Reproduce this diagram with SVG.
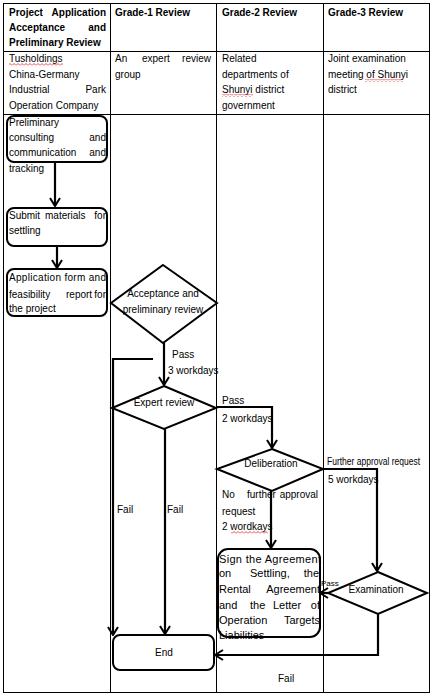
<svg xmlns="http://www.w3.org/2000/svg" width="435" height="697" viewBox="0 0 435 697">
<style>
text{font-family:"Liberation Sans",Arial,sans-serif;font-size:10px;fill:#000}
.b{font-weight:bold}
.m{text-anchor:middle}
.e{text-anchor:end}
.s{font-size:11px}
.tb{fill:none;stroke:#000;stroke-width:1}
.sh{fill:#fff;stroke:#000;stroke-width:2}
.cn{fill:none;stroke:#000;stroke-width:2.2}
.sq{fill:url(#sq)}
</style>
<defs>
<marker id="arr" viewBox="0 0 10 12" refX="9" refY="6" markerWidth="10" markerHeight="12" markerUnits="userSpaceOnUse" orient="auto">
<path d="M1,1 L9,6 L1,11" fill="none" stroke="#000" stroke-width="2"/>
</marker>
<pattern id="sq" width="4" height="3" patternUnits="userSpaceOnUse">
<path d="M0,2.5 L2,0.5 L4,2.5" fill="none" stroke="#d00" stroke-width="0.7"/>
</pattern>
</defs>
<rect width="435" height="697" fill="#fff"/>
<g id="table">
<rect class="tb" x="3.5" y="3.5" width="426" height="689"/>
<path class="tb" d="M110.5,3.5V692.5M216.5,3.5V692.5M323.5,3.5V692.5M3.5,51.5H429.5M3.5,114.5H429.5"/>
</g>
<g id="lane-project">
<text class="b" x="9" y="16">Project</text><text class="b e" x="106" y="16">Application</text>
<text class="b" x="9" y="31">Acceptance</text><text class="b e" x="106" y="31">and</text>
<text class="b" x="9" y="46">Preliminary Review</text>
<text x="9" y="62">Tusholdings</text>
<rect class="sq" x="9" y="63" width="54" height="3"/>
<text x="9" y="78">China-Germany</text>
<text x="9" y="93">Industrial</text><text class="e" x="106" y="93">Park</text>
<text x="9" y="109">Operation Company</text>
</g>
<g id="lane-grade1">
<text class="b" x="115" y="16">Grade-1 Review</text>
<text x="115" y="62">An</text><text x="142" y="62">expert</text><text class="e" x="211" y="62">review</text>
<text x="115" y="78">group</text>
</g>
<g id="lane-grade2">
<text class="b" x="222" y="16">Grade-2 Review</text>
<text x="222" y="62">Related</text>
<text x="222" y="78">departments of</text>
<text x="222" y="93">Shunyi district</text>
<rect class="sq" x="222" y="94" width="31" height="3"/>
<text x="222" y="109">government</text>
</g>
<g id="lane-grade3">
<text class="b" x="328" y="16">Grade-3 Review</text>
<text x="328" y="62">Joint examination</text>
<text x="328" y="78">meeting of Shunyi</text>
<rect class="sq" x="365" y="79" width="38" height="3"/>
<text x="328" y="93">district</text>
</g>
<g id="connectors">
<path class="cn" d="M55,163V206" marker-end="url(#arr)"/>
<path class="cn" d="M57,247V268" marker-end="url(#arr)"/>
<path class="cn" d="M164,343V385" marker-end="url(#arr)"/>
<path class="cn" d="M153,359H113V635" marker-end="url(#arr)"/>
<path class="cn" d="M165,429V634" marker-end="url(#arr)"/>
<path class="cn" d="M216,407H272V448" marker-end="url(#arr)"/>
<path class="cn" d="M271,491V548" marker-end="url(#arr)"/>
<path class="cn" d="M323,469H377V571" marker-end="url(#arr)"/>
<path class="cn" d="M328,593H320" marker-end="url(#arr)"/>
<path class="cn" d="M378,614V655H215" marker-end="url(#arr)"/>
<text x="172" y="358">Pass</text>
<text x="168" y="374">3 workdays</text>
<text x="117" y="513">Fail</text>
<text x="167" y="513">Fail</text>
<text x="222" y="404">Pass</text>
<text x="222" y="422">2 workdays</text>
<text x="327" y="465" textLength="93" lengthAdjust="spacingAndGlyphs">Further approval request</text>
<text x="328" y="483">5 workdays</text>
<text x="222" y="498">No</text><text x="247" y="498">further</text><text class="e" x="318" y="498">approval</text>
<text x="222" y="515">request</text>
<text x="222" y="530">2 wordkays</text>
<rect class="sq" x="231" y="531" width="37" height="3"/>
<text x="321" y="586" style="font-size:8px">Pass</text>
<text x="278" y="682">Fail</text>
</g>
<g id="n-consulting">
<rect class="sh" x="7" y="116" width="100" height="46" rx="7"/>
<text x="9" y="126">Preliminary</text>
<text x="9" y="141">consulting</text><text class="e" x="106" y="141">and</text>
<text x="9" y="156">communication</text><text class="e" x="106" y="156">and</text>
<text x="9" y="172">tracking</text>
</g>
<g id="n-submit">
<rect class="sh" x="7" y="208" width="100" height="38" rx="7"/>
<text x="9" y="219">Submit</text><text x="45" y="219">materials</text><text class="e" x="106" y="219">for</text>
<text x="9" y="234">settling</text>
</g>
<g id="n-application">
<rect class="sh" x="7" y="269" width="100" height="47" rx="7"/>
<text x="9" y="281" textLength="97" lengthAdjust="spacing">Application form and</text>
<text x="9" y="298">feasibility</text><text x="66" y="298">report</text><text class="e" x="106" y="298">for</text>
<text x="9" y="312">the project</text>
</g>
<g id="n-acceptance">
<polygon class="sh" points="163,265 217,303 163,343 111,303"/>
<text class="m" x="163" y="297">Acceptance and</text>
<text class="m" x="163" y="313">preliminary review</text>
</g>
<g id="n-expert">
<polygon class="sh" points="164,386 216,408 164,429 112,408"/>
<text class="m" x="164" y="406">Expert review</text>
</g>
<g id="n-deliberation">
<polygon class="sh" points="272,449 323,469 272,491 217,469"/>
<text class="m" x="271" y="467">Deliberation</text>
</g>
<g id="n-sign">
<rect class="sh" x="218" y="549" width="102" height="88" rx="10"/>
<text class="s" x="219" y="563" textLength="102" lengthAdjust="spacing">Sign the Agreement</text>
<text class="s" x="219" y="577">on</text><text class="s" x="250" y="577">Settling,</text><text class="s e" x="319" y="577">the</text>
<text class="s" x="219" y="593">Rental</text><text class="s e" x="320" y="593">Agreement</text>
<text class="s" x="219" y="609">and</text><text class="s" x="250" y="609">the</text><text class="s" x="273" y="609">Letter</text><text class="s e" x="320" y="609">of</text>
<text class="s" x="219" y="624">Operation</text><text class="s e" x="320" y="624">Targets</text>
<text class="s" x="219" y="639">Liabilities</text>
</g>
<g id="n-examination">
<polygon class="sh" points="378,572 427,593 378,614 328,593"/>
<text class="m" x="376" y="593">Examination</text>
</g>
<g id="n-end">
<rect class="sh" x="113" y="635" width="101" height="35" rx="7"/>
<text class="m" x="164" y="656">End</text>
</g>
</svg>
